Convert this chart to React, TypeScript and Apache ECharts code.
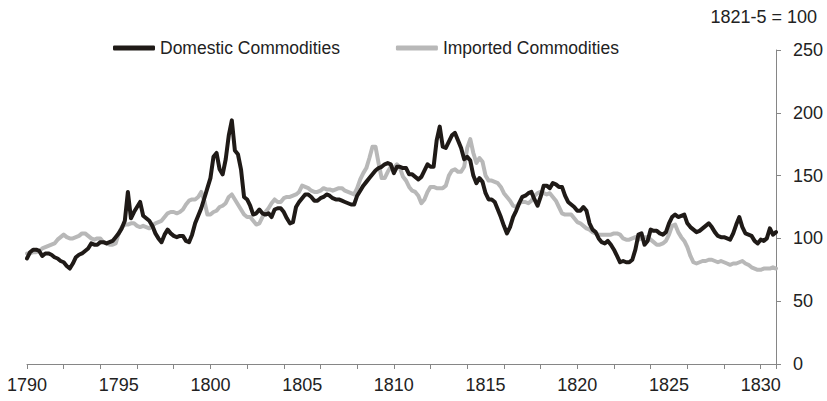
import React, { useEffect, useRef } from "react";
import * as echarts from "echarts";

// Monthly-style price indices, read every two months (6 readings per year), 1790 to 1830
const START_YEAR = 1790;
const STEPS_PER_YEAR = 6;

const seriesNames = ["Domestic Commodities", "Imported Commodities"];
const baseNote = "1821-5 = 100";

const domestic = [
  84, 89, 91, 91, 90, 86,
  88, 88, 87, 85, 84, 82,
  81, 78, 76, 80, 85, 87,
  88, 90, 92, 96, 95, 95,
  97, 97, 96, 97, 98, 101,
  104, 108, 114, 137, 116, 121,
  125, 129, 118, 116, 114, 110,
  104, 100, 97, 103, 107, 104,
  102, 101, 102, 102, 98, 97,
  103, 112, 118, 124, 132, 140,
  148, 165, 168, 155, 151, 163,
  182, 194, 170, 167, 155, 133,
  131, 126, 119, 120, 123, 120,
  119, 120, 117, 123, 124, 124,
  121, 116, 112, 113, 125, 129,
  132, 135, 135, 133, 130, 130,
  132, 133, 135, 134, 132, 131,
  131, 130, 129, 128, 127, 127,
  134, 138, 142, 145, 148, 151,
  154, 156, 157, 159, 160, 159,
  152, 157, 157, 156, 156, 151,
  151, 149, 147, 149, 154, 159,
  157, 157, 178, 189, 173, 172,
  177, 182, 184, 178, 172, 163,
  165, 162, 150, 144, 148, 145,
  136, 131, 131, 129, 123, 117,
  110, 104, 109, 117, 122, 128,
  133, 134, 136, 137, 131, 126,
  133, 142, 142, 140, 144, 143,
  141, 141, 134, 129, 127, 125,
  122, 122, 125, 122, 112, 107,
  105, 100, 97, 96, 98, 95,
  91, 86, 81, 82, 81, 81,
  83, 91, 103, 104, 95, 98,
  107, 106, 106, 104, 103, 105,
  112, 117, 119, 117, 118, 119,
  112, 109, 107, 105, 106, 108,
  110, 112, 109, 105, 102, 101,
  101, 100, 99, 104, 111, 117,
  109, 104, 103, 102, 98, 96,
  99, 98, 100, 108, 103, 105,
];

const imported = [
  88, 88, 89, 89, 90, 92,
  93, 94, 95, 96, 99, 101,
  103, 101, 100, 100, 101, 102,
  104, 104, 102, 100, 99, 100,
  100, 97, 96, 95, 95, 96,
  104, 109, 111, 111, 112, 112,
  110, 109, 110, 109, 108, 110,
  112, 113, 114, 117, 120, 121,
  121, 120, 121, 123, 127, 130,
  131, 131, 133, 137, 130, 119,
  119, 121, 122, 125, 126, 128,
  133, 135, 131, 127, 123, 119,
  117, 117, 114, 111, 112, 117,
  121, 124, 128, 131, 129, 129,
  132, 133, 133, 134, 135, 137,
  142, 141, 140, 138, 137, 137,
  138, 140, 139, 139, 138, 139,
  140, 140, 138, 137, 136, 135,
  140, 147, 152, 156, 164, 173,
  173, 160, 148, 148, 153, 157,
  156, 159, 156, 149, 146, 141,
  138, 137, 134, 128, 131, 137,
  141, 141, 140, 140, 140, 142,
  150, 154, 155, 153, 153, 157,
  172, 179, 168, 160, 164, 161,
  150, 146, 146, 145, 144, 141,
  136, 133, 130, 126, 125, 128,
  129, 129, 128, 130, 134, 136,
  137, 136, 135, 136, 133, 130,
  125, 120, 119, 119, 119, 116,
  113, 112, 110, 108, 107, 105,
  104, 103, 103, 103, 103, 103,
  104, 104, 103, 100, 99, 99,
  100, 101, 99, 100, 101, 101,
  99, 97, 95, 95, 96, 98,
  103, 110, 111, 105, 101, 98,
  93, 86, 81, 80, 81, 82,
  82, 83, 83, 82, 81, 82,
  81, 80, 79, 80, 80, 81,
  82, 80, 79, 77, 76, 75,
  75, 76, 76, 76, 77, 76,
];

const toPairs = (vals: number[]) =>
  vals.map((v, i) => [START_YEAR + i / STEPS_PER_YEAR, v]);

export default function App() {
  const ref = useRef<HTMLDivElement>(null);

  useEffect(() => {
    document.body.style.margin = "0";
    if (!ref.current) return;
    const chart = echarts.init(ref.current, null, { renderer: "svg" });
    const xMax = START_YEAR + (domestic.length - 1) / STEPS_PER_YEAR;
    const fontFamily = "'Liberation Sans', Arial, sans-serif";
    const textColor = "#222222";
    const axisColor = "#868686";
    const fontSize = 18;

    chart.setOption({
      animation: false,
      backgroundColor: "#ffffff",
      title: {
        text: baseNote,
        right: 5,
        top: 3,
        textStyle: { fontSize, fontWeight: "normal", color: textColor, fontFamily },
      },
      legend: {
        data: seriesNames,
        left: 108,
        top: 34,
        icon: "roundRect",
        itemWidth: 42,
        itemHeight: 5,
        itemGap: 56,
        textStyle: { fontSize: 17.5, color: textColor, fontFamily },
      },
      grid: { left: 27, right: 51, top: 50, bottom: 37, containLabel: false },
      xAxis: [
        {
          type: "value",
          position: "bottom",
          min: START_YEAR,
          max: xMax,
          interval: 2,
          axisLine: { show: true, lineStyle: { color: axisColor, width: 1 } },
          axisTick: { show: true, length: 5, lineStyle: { color: axisColor } },
          axisLabel: { show: false },
          splitLine: { show: false },
        },
        {
          type: "value",
          position: "bottom",
          min: START_YEAR,
          max: xMax,
          interval: 5,
          axisLine: { show: false },
          axisTick: { show: false },
          splitLine: { show: false },
          axisLabel: {
            show: true,
            margin: 12,
            fontSize,
            color: textColor,
            fontFamily,
            showMaxLabel: false,
            formatter: (v: number) => (Number.isInteger(v) ? String(v) : ""),
          },
        },
      ],
      yAxis: {
        type: "value",
        position: "right",
        min: 0,
        max: 250,
        interval: 50,
        axisLine: { show: true, lineStyle: { color: axisColor, width: 1 } },
        axisTick: { show: true, length: 5, lineStyle: { color: axisColor } },
        axisLabel: { margin: 17, fontSize, color: textColor, fontFamily },
        splitLine: { show: false },
      },
      series: [
        {
          name: seriesNames[0],
          type: "line",
          xAxisIndex: 0,
          data: toPairs(domestic),
          symbol: "none",
          z: 3,
          lineStyle: { color: "#1f1a17", width: 4, cap: "round", join: "round" },
          itemStyle: { color: "#1f1a17" },
        },
        {
          name: seriesNames[1],
          type: "line",
          xAxisIndex: 0,
          data: toPairs(imported),
          symbol: "none",
          z: 2,
          lineStyle: { color: "#b8b8b8", width: 4, cap: "round", join: "round" },
          itemStyle: { color: "#b8b8b8" },
        },
      ],
    });

    return () => chart.dispose();
  }, []);

  return <div ref={ref} style={{ width: 827, height: 401 }} />;
}
